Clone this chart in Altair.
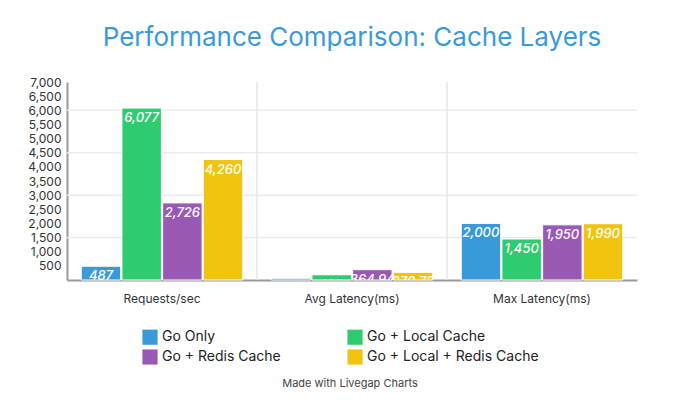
import altair as alt
import pandas as pd

categories = ["Requests/sec", "Avg Latency(ms)", "Max Latency(ms)"]
series = ["Go Only", "Go + Local Cache", "Go + Redis Cache", "Go + Local + Redis Cache"]
go_only = [487, 60, 2000]
go_local = [6077, 185, 1450]
go_redis = [2726, 364.94, 1950]
go_local_redis = [4260, 270.73, 1990]
colors = ["#3a9ad9", "#2ecc71", "#9b59b6", "#f1c40f"]
y_ticks = [500, 1000, 1500, 2000, 2500, 3000, 3500, 4000, 4500, 5000, 5500, 6000, 6500, 7000]
grid_values = [1500, 3000, 4500, 6000]
divider_categories = ["Avg Latency(ms)", "Max Latency(ms)"]
credit = ["Made with Livegap Charts"]

rows = []
for s, vals in zip(series, [go_only, go_local, go_redis, go_local_redis]):
    for c, v in zip(categories, vals):
        rows.append({"category": c, "series": s, "value": v})
df = pd.DataFrame(rows)

# legend fills column-wise: reorder domain so rows read as in the reference
legend_order = [series[0], series[2], series[1], series[3]]
legend_colors = [colors[0], colors[2], colors[1], colors[3]]

x_axis = alt.Axis(title=None, labelAngle=0, labelAlign="center", labelFontSize=12,
                  labelColor="#333", labelFont="Inter", ticks=False, domainColor="#999",
                  domainWidth=2, labelPadding=13, grid=False)
x_scale = alt.Scale(paddingInner=0, paddingOuter=0)
y_axis = alt.Axis(title=None, values=y_ticks, format=",d", grid=False,
                  ticks=False, labelFontSize=12, labelColor="#333",
                  labelFont="Inter", domainColor="#999", domainWidth=2,
                  labelPadding=6, labelOverlap=False)
y_scale = alt.Scale(domain=[0, 7000], nice=False)
xoff = alt.XOffset("series:N", sort=series,
                   scale=alt.Scale(paddingOuter=0.35, paddingInner=0.03))

grid = alt.Chart(pd.DataFrame({"v": grid_values})).mark_rule(
    color="#ebebeb", strokeWidth=1.5).encode(
    y=alt.Y("v:Q", scale=y_scale, axis=y_axis))

dividers = alt.Chart(pd.DataFrame({"category": divider_categories})).mark_rule(
    color="#e6e6e6", strokeWidth=1.5, xOffset=-95).encode(
    x=alt.X("category:N", sort=categories, scale=x_scale, axis=x_axis))

bars = alt.Chart(df).mark_bar(stroke="white", strokeWidth=1).encode(
    x=alt.X("category:N", sort=categories, scale=x_scale, axis=x_axis),
    xOffset=xoff,
    y=alt.Y("value:Q", scale=y_scale, axis=y_axis),
    color=alt.Color("series:N",
                    scale=alt.Scale(domain=legend_order, range=legend_colors),
                    legend=alt.Legend(title=None, orient="none", legendX=75, legendY=247,
                                      columns=2, symbolType="square", symbolSize=230,
                                      symbolStrokeWidth=0, symbolOpacity=1,
                                      labelFontSize=14, labelFont="Inter",
                                      labelColor="#222", columnPadding=66,
                                      rowPadding=4, symbolOffset=0, labelLimit=400)),
)

labels = alt.Chart(df).mark_text(
    color="white", fontStyle="italic", fontSize=13, font="Inter", fontWeight=500,
    baseline="top", dy=4, clip=True).encode(
    x=alt.X("category:N", sort=categories, scale=x_scale, axis=x_axis),
    xOffset=xoff,
    y=alt.Y("value:Q", scale=y_scale, axis=y_axis),
    text=alt.Text("value:Q", format=",.2~f"),
)

credit_text = alt.Chart(pd.DataFrame({"t": credit})).mark_text(
    fontSize=11, font="Inter", color="#444").encode(
    text="t:N", x=alt.value(283), y=alt.value(302))

chart = alt.layer(grid, dividers, bars, labels, credit_text).properties(
    width=570, height=198,
    padding={"left": 19, "top": 17, "right": 5, "bottom": 5},
    title=alt.Title("Performance Comparison: Cache Layers", fontSize=26,
                    font="Inter", fontWeight="normal", color="#3a9ad9",
                    anchor="middle", offset=25),
).configure_view(stroke=None)

chart.save("out.html", embed_options={"renderer": "svg", "actions": False})
